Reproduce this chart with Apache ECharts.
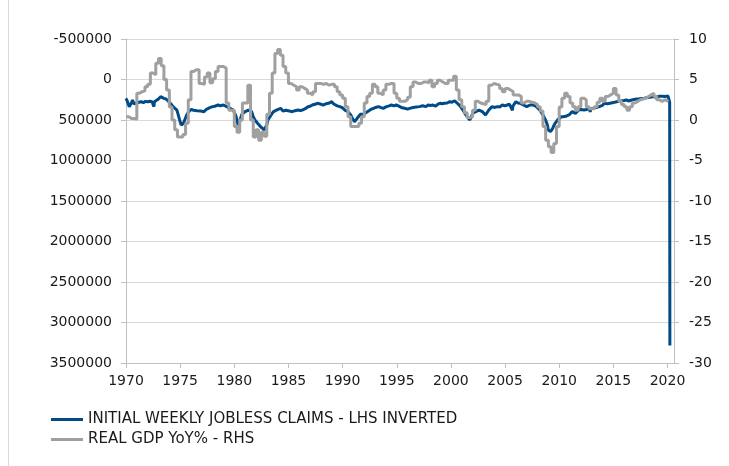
<!DOCTYPE html>
<html>
<head>
<meta charset="utf-8">
<script src="https://cdn.jsdelivr.net/npm/echarts@6/dist/echarts.min.js"></script>
<style>
html,body{margin:0;padding:0;background:#fff;}
#chart{width:729px;height:466px;}
</style>
</head>
<body>
<div id="chart"></div>
<script>
// Initial weekly jobless claims (decimal year, claims)
var claimsYears = [
1970.0,1970.1,1970.2,1970.3,1970.4,1970.5,1970.6,1970.75,1970.9,1971.0,1971.2,1971.4,1971.6,1971.8,1972.0,1972.2,1972.4,1972.55,1972.58,1972.62,1972.8,1973.0,1973.2,1973.35,1973.5,1973.7,1973.85,1974.0,1974.2,1974.35,1974.5,1974.7,1974.85,1974.95,1975.1,1975.2,1975.3,1975.45,1975.6,1975.8,1976.0,1976.1,1976.25,1976.4,1976.55,1976.7,1976.9,1977.05,1977.2,1977.4,1977.6,1977.8,1978.0,1978.2,1978.35,1978.5,1978.7,1978.85,1979.0,1979.15,1979.3,1979.45,1979.6,1979.75,1979.9,1980.05,1980.15,1980.25,1980.35,1980.45,1980.5,1980.6,1980.7,1980.85,1981.0,1981.15,1981.3,1981.45,1981.6,1981.75,1981.9,1982.0,1982.15,1982.3,1982.45,1982.6,1982.75,1982.85,1983.0,1983.1,1983.25,1983.4,1983.6,1983.75,1983.9,1984.1,1984.3,1984.5,1984.6,1984.75,1984.9,1985.1,1985.35,1985.6,1985.9,1986.1,1986.3,1986.55,1986.8,1987.0,1987.2,1987.45,1987.75,1988.0,1988.2,1988.45,1988.7,1989.0,1989.15,1989.3,1989.5,1989.75,1990.0,1990.2,1990.35,1990.5,1990.65,1990.75,1990.9,1991.0,1991.1,1991.25,1991.4,1991.5,1991.65,1991.8,1991.95,1992.1,1992.25,1992.4,1992.6,1992.85,1993.05,1993.3,1993.5,1993.75,1994.05,1994.3,1994.5,1994.75,1994.95,1995.15,1995.3,1995.5,1995.75,1996.0,1996.2,1996.35,1996.5,1996.8,1997.1,1997.4,1997.7,1997.9,1998.1,1998.35,1998.6,1998.8,1999.0,1999.2,1999.4,1999.65,1999.9,2000.1,2000.35,2000.5,2000.6,2000.75,2000.9,2001.05,2001.2,2001.35,2001.5,2001.65,2001.75,2001.85,2001.95,2002.1,2002.3,2002.45,2002.6,2002.75,2002.9,2003.05,2003.2,2003.35,2003.5,2003.65,2003.8,2004.0,2004.3,2004.5,2004.75,2005.0,2005.2,2005.4,2005.5,2005.68,2005.72,2005.8,2006.0,2006.2,2006.4,2006.55,2006.7,2006.85,2007.0,2007.15,2007.3,2007.45,2007.6,2007.75,2007.9,2008.05,2008.2,2008.35,2008.5,2008.6,2008.7,2008.8,2008.9,2009.0,2009.1,2009.2,2009.3,2009.4,2009.5,2009.6,2009.7,2009.85,2010.0,2010.2,2010.4,2010.6,2010.75,2010.9,2011.05,2011.2,2011.35,2011.5,2011.65,2011.8,2012.0,2012.15,2012.3,2012.5,2012.65,2012.8,2012.86,2012.92,2013.0,2013.2,2013.4,2013.55,2013.7,2013.85,2014.0,2014.15,2014.3,2014.45,2014.6,2014.8,2015.0,2015.1,2015.3,2015.5,2015.7,2015.85,2016.0,2016.2,2016.4,2016.55,2016.7,2016.85,2017.0,2017.2,2017.4,2017.6,2017.7,2017.75,2017.85,2018.0,2018.15,2018.3,2018.5,2018.7,2018.9,2019.05,2019.2,2019.35,2019.5,2019.65,2019.8,2019.95,2020.05,2020.15,2020.2,2020.22
];
var claimsValues = [
232000,260000,300000,336000,320000,290000,253000,300000,290000,294000,280000,274000,285000,270000,275000,268000,274000,285000,335000,275000,258000,240000,212000,225000,233000,240000,250000,280000,310000,335000,350000,377000,450000,500000,562000,550000,540000,490000,440000,397000,370000,356000,380000,397000,385000,377000,390000,400000,397000,370000,356000,345000,335000,330000,320000,315000,325000,310000,315000,325000,335000,345000,356000,370000,377000,400000,450000,500000,562000,540000,521000,470000,430000,410000,397000,385000,377000,390000,397000,459000,500000,521000,540000,562000,585000,603000,623000,610000,562000,500000,470000,438000,400000,385000,377000,365000,356000,390000,397000,380000,377000,390000,397000,385000,377000,385000,377000,360000,336000,330000,315000,305000,294000,305000,315000,300000,294000,274000,300000,315000,325000,335000,350000,377000,385000,397000,420000,438000,480000,500000,521000,510000,470000,459000,430000,418000,430000,438000,400000,377000,370000,356000,345000,335000,345000,356000,335000,325000,315000,325000,315000,325000,335000,350000,356000,365000,356000,377000,345000,340000,335000,325000,335000,315000,320000,315000,330000,305000,294000,300000,294000,290000,274000,280000,265000,280000,294000,315000,335000,365000,397000,430000,459000,470000,500000,470000,438000,410000,397000,385000,377000,400000,397000,420000,438000,420000,377000,360000,335000,345000,335000,340000,315000,325000,315000,305000,294000,380000,330000,315000,274000,290000,294000,305000,315000,320000,335000,325000,315000,310000,315000,325000,335000,345000,377000,390000,438000,460000,490000,521000,560000,623000,640000,644000,620000,603000,570000,545000,521000,500000,479000,460000,459000,455000,445000,438000,418000,397000,410000,418000,400000,377000,370000,365000,377000,370000,360000,356000,400000,360000,350000,356000,345000,340000,335000,330000,320000,294000,305000,300000,294000,290000,285000,274000,275000,270000,265000,255000,260000,253000,265000,255000,253000,250000,245000,240000,238000,233000,250000,245000,230000,225000,222000,212000,215000,210000,220000,215000,208000,212000,206000,212000,210000,212000,205000,211000,281000,3283000
];

// Real GDP YoY % (quarter start, value)
var gdpYears = [];
for (var y = 1970; y <= 2019; y++) { gdpYears.push(y, y + 0.25, y + 0.5, y + 0.75); }
gdpYears.push(2020.1);
var gdpValues = [
0.4,0.2,0.2,0.1,
3.3,3.5,3.6,4.1,
4.4,5.8,5.6,7.0,
7.6,6.7,5.0,3.7,
1.6,0.0,-1.2,-2.1,
-2.1,-1.8,-0.4,2.5,
6.0,6.2,6.2,4.5,
4.4,5.3,5.8,4.6,
5.1,6.0,6.6,6.6,
6.4,2.1,1.2,1.2,
-0.8,-1.5,0.0,2.1,
2.1,4.3,0.0,-2.1,
-1.2,-2.5,-1.5,-2.0,
0.7,3.3,5.8,8.2,
8.7,8.0,6.6,5.8,
4.5,4.3,4.1,3.7,
4.1,3.9,3.7,3.3,
3.1,3.5,4.5,4.5,
4.4,4.5,4.3,4.4,
4.4,4.1,3.5,3.1,
2.7,1.65,0.4,-0.8,
-0.8,-0.8,-0.4,0.4,
2.1,2.9,3.3,4.4,
4.1,3.3,3.1,3.7,
4.4,4.5,4.5,3.3,
2.7,2.3,2.3,2.5,
2.8,4.1,4.7,4.5,
4.5,4.7,4.7,4.6,
4.9,4.1,4.5,4.9,
4.7,4.5,4.5,4.9,
4.9,5.4,3.7,2.5,
1.65,0.9,0.3,0.4,
1.2,2.3,2.1,2.0,
1.9,2.3,4.3,4.5,
4.4,4.3,3.9,3.5,
3.9,3.7,3.5,3.1,
3.1,2.9,2.1,2.3,
2.3,2.2,2.1,1.9,
1.65,1.1,-0.8,-2.5,
-3.3,-4.0,-2.9,-0.8,
1.6,2.7,3.3,2.9,
2.1,1.65,1.2,1.65,
2.7,2.5,1.65,1.4,
1.4,1.65,2.2,2.7,
2.3,2.9,3.1,3.3,
3.9,3.1,2.3,1.9,
1.65,1.2,1.65,2.1,
2.3,2.5,2.6,2.7,
2.9,3.1,3.3,2.9,
2.5,2.3,2.5,2.3,
2.3
];

var xTicks = [1970,1975,1980,1985,1990,1995,2000,2005,2010,2015,2020];

function zip(a, b) { var r = []; for (var i = 0; i < a.length; i++) r.push([a[i], b[i]]); return r; }

var FONT = 'DejaVu Sans';
var chart = echarts.init(document.getElementById('chart'), null, {renderer: 'canvas'});
chart.setOption({
  animation: false,
  backgroundColor: '#ffffff',
  grid: {left: 126, right: 55, top: 39, bottom: 103, containLabel: false},
  graphic: [{
    type: 'line', shape: {x1: 8.5, y1: 0, x2: 8.5, y2: 466},
    style: {stroke: '#d9d9d9', lineWidth: 1}
  }],
  legend: {
    orient: 'vertical', left: 51, top: 412, itemGap: 5, padding: 0,
    itemWidth: 32, itemHeight: 3, icon: 'rect',
    textStyle: {fontFamily: FONT, fontSize: 15, color: '#1a1a1a'},
    data: ['INITIAL WEEKLY JOBLESS CLAIMS - LHS INVERTED', 'REAL GDP YoY% - RHS']
  },
  xAxis: {
    type: 'value', min: 1970, max: 2020.6, interval: 5,
    axisLine: {show: true, onZero: false, lineStyle: {color: '#bfbfbf', width: 1}},
    axisTick: {show: true, length: 5, lineStyle: {color: '#bfbfbf'},
      customValues: xTicks},
    axisLabel: {
      customValues: xTicks,
      fontFamily: FONT, fontSize: 14, color: '#1a1a1a', margin: 11,
      formatter: function (v) { return String(v); }
    },
    splitLine: {show: false}
  },
  yAxis: [{
    type: 'value', inverse: true, min: -500000, max: 3500000, interval: 500000,
    position: 'left',
    axisLine: {show: true, lineStyle: {color: '#bfbfbf', width: 1}},
    axisTick: {show: true, length: 5, lineStyle: {color: '#bfbfbf'}},
    axisLabel: {fontFamily: FONT, fontSize: 14, color: '#1a1a1a', margin: 14,
      formatter: function (v) { return String(v); }},
    splitLine: {show: true, lineStyle: {color: '#d9d9d9', width: 1}}
  }, {
    type: 'value', min: -30, max: 10, interval: 5, position: 'right',
    axisLine: {show: true, lineStyle: {color: '#bfbfbf', width: 1}},
    axisTick: {show: true, length: 5, lineStyle: {color: '#bfbfbf'}},
    axisLabel: {fontFamily: FONT, fontSize: 14, color: '#1a1a1a', margin: 15,
      formatter: function (v) { return String(v); }},
    splitLine: {show: false}
  }],
  series: [{
    name: 'INITIAL WEEKLY JOBLESS CLAIMS - LHS INVERTED',
    type: 'line', yAxisIndex: 0, showSymbol: false, symbol: 'none',
    data: zip(claimsYears, claimsValues),
    itemStyle: {color: '#004B87'},
    lineStyle: {color: '#004B87', width: 3}
  }, {
    name: 'REAL GDP YoY% - RHS',
    type: 'line', yAxisIndex: 1, showSymbol: false, symbol: 'none', step: 'end',
    data: zip(gdpYears, gdpValues),
    itemStyle: {color: '#a0a0a0'},
    lineStyle: {color: '#a0a0a0', width: 3}
  }]
});
</script>
</body>
</html>
